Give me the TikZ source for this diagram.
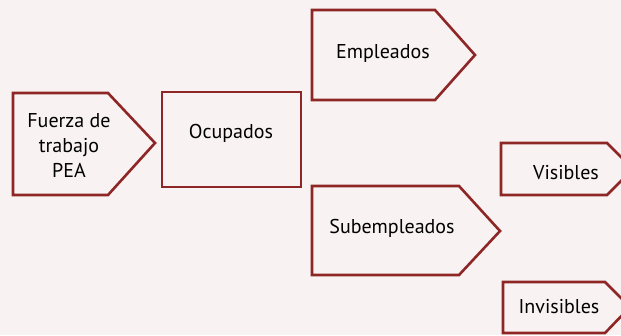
\documentclass[tikz,border=0pt]{standalone}
\usepackage{fontspec}
\setmainfont{PT Sans}
\usepackage{xcolor}
\definecolor{bgpink}{HTML}{F8F2F3}
\definecolor{boxred}{HTML}{8E2626}

\begin{document}
\begin{tikzpicture}[x=1pt,y=-1pt,
    box/.style={draw=boxred, line width=2.6pt, line join=miter},
    lbl/.style={font=\fontsize{20}{25}\selectfont, align=center, inner sep=0pt}]
    \useasboundingbox (0,0) rectangle (621,335);
    \fill[bgpink] (0,0) rectangle (621,335);
    \clip (0,0) rectangle (621,335);

    % shapes
    \draw[box] (13,93) -- (108,93) -- (155,143) -- (108,195) -- (13,195) -- cycle;
    \draw[box] (162,92) rectangle (301,187);
    \draw[box] (312,10) -- (435,10) -- (475,55) -- (435,100) -- (312,100) -- cycle;
    \draw[box] (312,186) -- (459,186) -- (500,231) -- (459,275) -- (312,275) -- cycle;
    \draw[box] (501,143) -- (607,143) -- (633,169) -- (607,195) -- (501,195) -- cycle;
    \draw[box] (503,282) -- (605,282) -- (630,307) -- (605,333) -- (503,333) -- cycle;

    % texts
    \node[lbl] (fuerza) at (69,145) {Fuerza de\\trabajo\\PEA};
    \node[lbl] (ocup) at (231,133) {Ocupados};
    \node[lbl] (empl) at (383,53) {Empleados};
    \node[lbl] (subem) at (392,228) {Subempleados};
    \node[lbl] (visib) at (566,173) {Visibles};
    \node[lbl] (invis) at (559,307) {Invisibles};
\end{tikzpicture}
\end{document}
